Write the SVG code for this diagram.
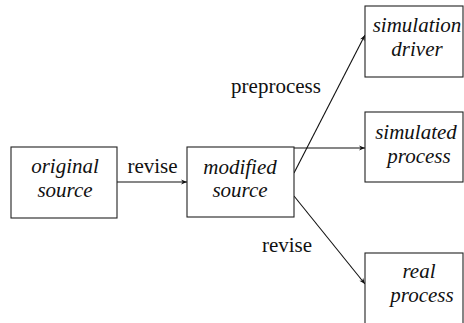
<svg xmlns="http://www.w3.org/2000/svg" width="464" height="323" viewBox="0 0 464 323">
<defs>
<marker id="arr" viewBox="0 0 10 10" refX="10" refY="5" markerWidth="8" markerHeight="6" orient="auto" markerUnits="userSpaceOnUse">
<path d="M0,1 L10,5 L0,9 L3,5 Z" fill="#111"/>
</marker>
</defs>
<style>
.box{fill:#fff;stroke:#222;stroke-width:1.1}
.n{font-family:"Liberation Serif",serif;font-style:italic;font-size:21px;text-anchor:middle;fill:#111}
.l{font-family:"Liberation Serif",serif;font-size:21px;text-anchor:middle;fill:#111}
.c{stroke:#111;stroke-width:1.1;fill:none;marker-end:url(#arr)}
</style>
<rect width="464" height="323" fill="#fff"/>
<g id="connectors">
<line class="c" x1="117" y1="182" x2="187" y2="182"/>
<line class="c" x1="294" y1="148" x2="365" y2="148"/>
<line class="c" x1="294" y1="173" x2="365" y2="35"/>
<line class="c" x1="294" y1="196" x2="365" y2="284"/>
<text class="l" x="152.5" y="173">revise</text>
<text class="l" x="276" y="93">preprocess</text>
<text class="l" x="287" y="252">revise</text>
</g>
<g id="original">
<rect class="box" x="11" y="147" width="106" height="71"/>
<text class="n" x="65" y="173">original</text>
<text class="n" x="65" y="197">source</text>
</g>
<g id="modified">
<rect class="box" x="187" y="147" width="107" height="70"/>
<text class="n" x="240" y="174">modified</text>
<text class="n" x="240" y="197">source</text>
</g>
<g id="simdriver">
<rect class="box" x="365" y="6" width="98" height="71"/>
<text class="n" x="417" y="32">simulation</text>
<text class="n" x="417" y="56">driver</text>
</g>
<g id="simprocess">
<rect class="box" x="365" y="112" width="98" height="70"/>
<text class="n" x="416" y="139">simulated</text>
<text class="n" x="419" y="163">process</text>
</g>
<g id="realprocess">
<rect class="box" x="365" y="253" width="98" height="90"/>
<text class="n" x="419" y="278">real</text>
<text class="n" x="422" y="302">process</text>
</g>
</svg>
